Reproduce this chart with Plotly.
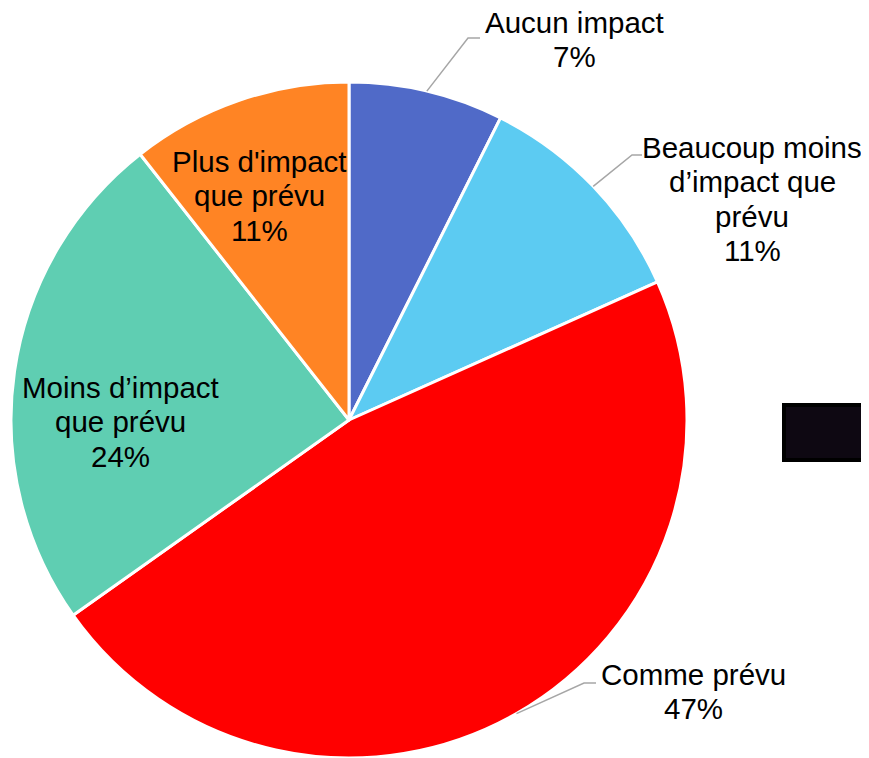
import math
import plotly.graph_objects as go

# ---- data ----
categories = ["Aucun impact", "Beaucoup moins\nd’impact que\nprévu", "Comme prévu",
              "Moins d’impact\nque prévu", "Plus d'impact\nque prévu"]
values = [7.4, 10.9, 46.9, 24.2, 10.6]
colors = ["#506AC8", "#5CCBF2", "#FF0000", "#5FCEB2", "#FF8424"]

# ---- layout config (pixels, screen coordinates) ----
W, H = 869, 758
OFF = 8  # page body margin
CX, CY, R = 349, 420, 338
FONT_SIZE = 29.5
LINE_GAP = 34.5
label_pos = [(574, 39.5), (752, 199), (693, 691.5), (120, 421.5), (259, 196)]
leaders = [((468, 38), (480, 38)), ((632, 155), (642, 155)), ((584, 683), (596, 683)), None, None]


def px(x):
    return (x - OFF) / W


def py(y):
    return 1 - (y - OFF) / H


fig = go.Figure()
fig.add_trace(go.Pie(
    labels=[c.replace("\n", " ") for c in categories],
    values=values,
    marker=dict(colors=colors, line=dict(color="white", width=3)),
    sort=False, direction="clockwise", rotation=0,
    textinfo="none", hoverinfo="label+percent",
    domain=dict(x=[px(CX - R), px(CX + R)], y=[py(CY + R), py(CY - R)]),
))

total = sum(values)
cum = 0
shapes = []
annotations = []
for i, (cat, v) in enumerate(zip(categories, values)):
    mid = (cum + v / 2) / total * 2 * math.pi
    cum += v
    pct = round(v / total * 100)
    lines = cat.split("\n") + [f"{pct}%"]
    lx, ly = label_pos[i]
    n = len(lines)
    for k, line in enumerate(lines):
        yk = ly + (k - (n - 1) / 2) * LINE_GAP
        annotations.append(dict(
            x=px(lx), y=py(yk), xref="paper", yref="paper", text=line,
            showarrow=False, xanchor="center", yanchor="middle", align="center",
            font=dict(family="Liberation Sans, Arial", size=FONT_SIZE, color="black"),
        ))
    if leaders[i]:
        sx = CX + R * math.sin(mid)
        sy = CY - R * math.cos(mid)
        (ex, ey), (fx, fy) = leaders[i]
        path = f"M {px(sx)},{py(sy)} L {px(ex)},{py(ey)} L {px(fx)},{py(fy)}"
        shapes.append(dict(type="path", path=path, xref="paper", yref="paper",
                           line=dict(color="#A6A6A6", width=1.5)))

# dark box at right edge
shapes.append(dict(type="rect", xref="paper", yref="paper",
                   x0=px(784), x1=px(880), y0=py(460), y1=py(405),
                   fillcolor="#0E0812", line=dict(color="black", width=4)))

fig.update_layout(
    width=W, height=H, margin=dict(l=0, r=0, t=0, b=0),
    paper_bgcolor="white", plot_bgcolor="white", showlegend=False,
    shapes=shapes, annotations=annotations,
)
fig.write_html("out.html")
